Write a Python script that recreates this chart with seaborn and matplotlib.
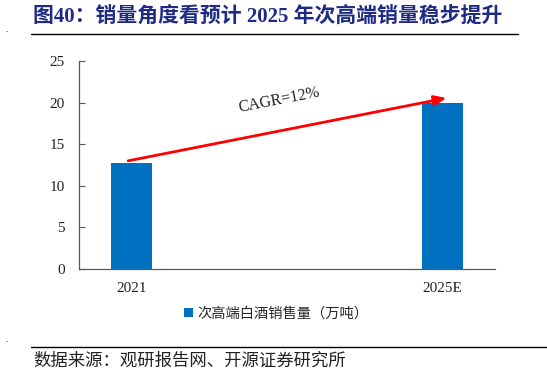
import matplotlib
matplotlib.use("Agg")
import matplotlib.pyplot as plt
import seaborn as sns
import pandas as pd
from matplotlib.patches import Patch

categories = ["2021", "2025E"]
values = [12.7, 20.0]
series_name = "次高端白酒销售量（万吨）"
yticks = [0, 5, 10, 15, 20, 25]
title = "图40：销量角度看预计 2025 年次高端销量稳步提升"
source = "数据来源：观研报告网、开源证券研究所"
cagr_label = "CAGR=12%"
arrow_start = 13.0
arrow_end = 20.55

sns.set_theme(style="white")
plt.rcParams['font.family'] = ['Liberation Serif', 'Noto Sans CJK SC', 'DejaVu Sans']

W, H = 547, 377
fig = plt.figure(figsize=(W / 100, H / 100), dpi=100)
ax = fig.add_axes([79 / W, 1 - 269 / H, (495 - 79) / W, (269 - 61) / H])

df = pd.DataFrame({"year": categories, "value": values})
bar_color = "#0070C0"
sns.barplot(data=df, x="year", y="value", color=bar_color, width=0.132,
            saturation=1, ax=ax, edgecolor="none")

ax.set_xlim(-0.169, 1.169)
ax.set_ylim(0, 25)
ax.set_yticks(yticks)
ax.set_xlabel("")
ax.set_ylabel("")
axis_color = "#595959"
for s in ["top", "right"]:
    ax.spines[s].set_visible(False)
for s in ["left", "bottom"]:
    ax.spines[s].set_color(axis_color)
    ax.spines[s].set_linewidth(0.9)
ax.tick_params(axis="y", direction="in", length=4, color=axis_color, width=0.8,
               labelsize=11, pad=10, labelcolor="#222222", left=True)
ax.tick_params(axis="x", length=0, labelsize=11, pad=9, labelcolor="#222222")
for lab in ax.get_yticklabels() + ax.get_xticklabels():
    lab.set_family(['Liberation Serif'])

# arrow
ax.annotate("", xy=(1.013, arrow_end), xytext=(-0.011, arrow_start),
            arrowprops=dict(arrowstyle="-|>,head_length=0.6,head_width=0.25",
                            color="#FF0000", lw=2, shrinkA=0, shrinkB=0))
ax.text(0.475, 20.3, cagr_label, rotation=11, ha="center", va="center",
        fontsize=11.5, family=['Liberation Serif'], color="#222222")

# legend
handle = Patch(facecolor=bar_color, edgecolor="none")
fig.legend([handle], [series_name], loc="center",
           bbox_to_anchor=(276 / W, 1 - 314 / H), frameon=False,
           prop={'family': ['Noto Sans CJK SC'], 'size': 10.3},
           handlelength=0.6, handleheight=0.6, handletextpad=0.3)

# title and footer
fig.text(33 / W, 1 - 17 / H, title, ha="left", va="center", fontsize=15,
         fontweight="bold", color="#1F2A85",
         family=['Liberation Serif', 'Noto Sans CJK SC'])
fig.add_artist(plt.Line2D([31 / W, 518 / W], [1 - 34 / H, 1 - 34 / H],
                          color="black", lw=1))
fig.add_artist(plt.Line2D([31 / W, 547 / W], [1 - 347 / H, 1 - 347 / H],
                          color="black", lw=1))
fig.text(33 / W, 1 - 361 / H, source, ha="left", va="center", fontsize=12.5,
         color="#222222", family=['Noto Sans CJK SC'])
fig.text(5 / W, 1 - 34 / H, ".", fontsize=6, color="black", va="bottom")
fig.text(5 / W, 1 - 344 / H, ".", fontsize=6, color="black", va="bottom")

fig.savefig("out.png", dpi=100)
